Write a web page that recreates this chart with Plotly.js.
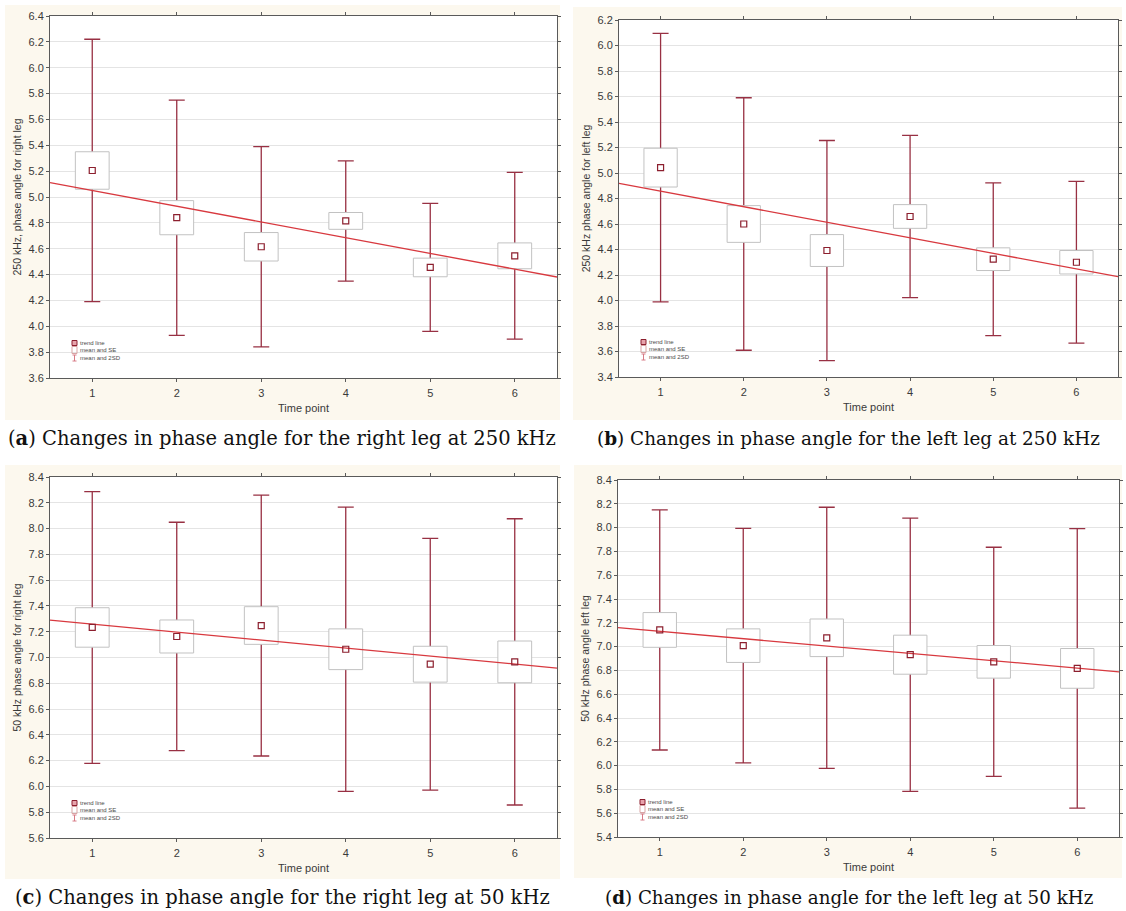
<!DOCTYPE html>
<html><head><meta charset="utf-8">
<script src="https://cdn.plot.ly/plotly-3.0.1.min.js"></script>
<style>html,body{margin:0;padding:0;background:#fff}#chart{width:1126px;height:911px}</style>
</head><body><div id="chart"></div>
<script>
// ---------- data ----------
const timePoints = [1, 2, 3, 4, 5, 6];
const tickLabels = ['1', '2', '3', '4', '5', '6'];
const xRange = [0.5, 6.5];

// (a) 250 kHz, right leg
const meanA = [5.205, 4.84, 4.615, 4.815, 4.455, 4.545];
const sd2A  = [1.015, 0.91, 0.775, 0.465, 0.495, 0.645];
const seA   = [0.145, 0.132, 0.11, 0.065, 0.072, 0.10];
// (b) 250 kHz, left leg
const meanB = [5.042, 4.60, 4.392, 4.659, 4.324, 4.30];
const sd2B  = [1.053, 0.99, 0.863, 0.636, 0.599, 0.635];
const seB   = [0.152, 0.144, 0.125, 0.093, 0.089, 0.092];
// (c) 50 kHz, right leg
const meanC = [7.233, 7.163, 7.248, 7.064, 6.948, 6.966];
const sd2C  = [1.054, 0.886, 1.012, 1.102, 0.976, 1.11];
const seC   = [0.153, 0.128, 0.146, 0.158, 0.139, 0.162];
// (d) 50 kHz, left leg
const meanD = [7.14, 7.008, 7.074, 6.932, 6.872, 6.817];
const sd2D  = [1.009, 0.985, 1.097, 1.148, 0.963, 1.174];
const seD   = [0.146, 0.141, 0.158, 0.164, 0.137, 0.167];

const yTitles = ['250 kHz, phase angle for right leg', '250 kHz phase angle for left leg',
                 '50 kHz phase angle for right leg', '50 kHz phase angle left leg'];
const yRanges = [[3.6, 6.4], [3.4, 6.2], [5.6, 8.4], [5.4, 8.4]];
const captions = ['(<b>a</b>) Changes in phase angle for the right leg at 250 kHz',
                  '(<b>b</b>) Changes in phase angle for the left leg at 250 kHz',
                  '(<b>c</b>) Changes in phase angle for the right leg at 50 kHz',
                  '(<b>d</b>) Changes in phase angle for the left leg at 50 kHz'];
const xTitle = 'Time point';
const legendLabels = ['trend line', 'mean and SE', 'mean and 2SD'];

// ---------- layout geometry (pixels) ----------
const W = 1126, H = 911;
const plotBoxes = [ // [left, right, top, bottom]
  [50, 557, 16, 378], [619, 1118, 20, 377],
  [50, 557, 477, 838], [618, 1119, 480, 837]];
const panelBoxes = [
  [5, 560, 5, 420], [573, 1122, 7, 420],
  [5, 560, 465, 879], [574, 1122, 465, 878]];
const captionPos = [[282, 438], [848, 438], [282, 897], [849, 897]];
const captionSize = [19.5, 18.4, 19.5, 18.3];

const whiskerColor = '#983043';
const meanColor = '#8c1f2e';
const trendColor = '#d8393f';
const boxLine = '#c2c2c2';
const axisColor = '#5a5a5a';
const cream = '#fcf8ee';
const sansFont = 'Liberation Sans, Arial, sans-serif';

function fit(xs, ys) {
  const n = xs.length;
  const mx = xs.reduce((a, b) => a + b, 0) / n;
  const my = ys.reduce((a, b) => a + b, 0) / n;
  let sxy = 0, sxx = 0;
  for (let i = 0; i < n; i++) { sxy += (xs[i] - mx) * (ys[i] - my); sxx += (xs[i] - mx) ** 2; }
  const slope = sxy / sxx;
  return x => my + slope * (x - mx);
}

const panels = [
  {mean: meanA, sd2: sd2A, se: seA},
  {mean: meanB, sd2: sd2B, se: seB},
  {mean: meanC, sd2: sd2C, se: seC},
  {mean: meanD, sd2: sd2D, se: seD}];

const data = [];
const layout = {
  width: W, height: H,
  margin: {l: 0, r: 0, t: 0, b: 0},
  paper_bgcolor: '#ffffff', plot_bgcolor: 'rgba(0,0,0,0)',
  showlegend: false, hovermode: false,
  font: {family: sansFont, color: '#3a3a3a'},
  shapes: [], annotations: []
};

// cream panel backgrounds first
panelBoxes.forEach(([pl, pr, pt, pb]) => {
  layout.shapes.push({type: 'rect', xref: 'paper', yref: 'paper', layer: 'below',
    x0: pl / W, x1: pr / W, y0: 1 - pb / H, y1: 1 - pt / H, fillcolor: cream, line: {width: 0}});
});

panels.forEach((p, i) => {
  const k = i + 1;
  const xa = k === 1 ? 'x' : 'x' + k;
  const ya = k === 1 ? 'y' : 'y' + k;
  const yo = 'y' + (k + 4);
  const [l, r, t, b] = plotBoxes[i];
  const xd = [l / W, r / W];
  const yd = [1 - b / H, 1 - t / H];
  const xdom = xa + ' domain', ydom = ya + ' domain';

  // white plot area
  layout.shapes.push({type: 'rect', xref: xdom, yref: ydom, layer: 'below',
    x0: 0, x1: 1, y0: 0, y1: 1, fillcolor: '#ffffff', line: {width: 0}});

  layout['xaxis' + (k === 1 ? '' : k)] = {
    domain: xd, anchor: ya, range: xRange,
    tickvals: timePoints, ticktext: tickLabels,
    showgrid: false, zeroline: false,
    showline: true, mirror: 'allticks', linecolor: axisColor, linewidth: 1,
    ticks: 'outside', ticklen: 3, tickcolor: axisColor, ticklabelstandoff: 2,
    tickfont: {size: 11, color: '#3a3a3a', family: sansFont},
    title: {text: xTitle, font: {size: 11, color: '#3a3a3a', family: sansFont}, standoff: 6}
  };
  layout['yaxis' + (k === 1 ? '' : k)] = {
    domain: yd, anchor: xa, range: yRanges[i],
    dtick: 0.2, tick0: 0, tickformat: '.1f',
    showgrid: true, gridcolor: '#e4e4e4', gridwidth: 1, zeroline: false,
    showline: true, mirror: 'allticks', linecolor: axisColor, linewidth: 1,
    ticks: 'outside', ticklen: 3, tickcolor: axisColor,
    tickfont: {size: 11, color: '#3a3a3a', family: sansFont},
    title: {text: yTitles[i], font: {size: 10.5, color: '#3a3a3a', family: sansFont}, standoff: 4}
  };
  layout['yaxis' + (k + 4)] = {
    overlaying: ya, anchor: xa, range: yRanges[i], visible: false,
    showgrid: false, zeroline: false
  };

  // 2SD whiskers (base subplot)
  data.push({
    type: 'scatter', x: timePoints, y: p.mean, mode: 'markers',
    marker: {opacity: 0, size: 2}, xaxis: xa, yaxis: ya, name: 'mean and 2SD',
    error_y: {type: 'data', array: p.sd2, visible: true, color: whiskerColor, thickness: 1.3, width: 8}
  });
  // SE boxes (overlay subplot, covers whiskers)
  data.push({
    type: 'bar', x: timePoints, y: p.se.map(s => 2 * s), base: p.mean.map((m, j) => m - p.se[j]),
    width: 0.4, xaxis: xa, yaxis: yo, name: 'mean and SE',
    marker: {color: '#ffffff', line: {color: boxLine, width: 1}}
  });
  // trend line (least squares through the means)
  const f = fit(timePoints, p.mean);
  data.push({
    type: 'scatter', x: xRange, y: xRange.map(f), mode: 'lines',
    line: {color: trendColor, width: 1.3}, xaxis: xa, yaxis: yo, name: 'trend line'
  });
  // means
  data.push({
    type: 'scatter', x: timePoints, y: p.mean, mode: 'markers', xaxis: xa, yaxis: yo, name: 'mean',
    marker: {symbol: 'square-open', size: 6, color: meanColor, line: {width: 1.2}}
  });

  // in-plot legend
  const rowY = [35, 28, 20];
  legendLabels.forEach((lab, j) => {
    layout.annotations.push({xref: xdom, yref: ydom, x: 0, y: 0, xanchor: 'left', yanchor: 'middle',
      xshift: 28, yshift: rowY[j], text: lab, showarrow: false,
      font: {size: 6, color: '#4a4a4a', family: sansFont}});
  });
  layout.shapes.push({type: 'rect', xref: xdom, yref: ydom, xsizemode: 'pixel', ysizemode: 'pixel',
    xanchor: 0, yanchor: 0, x0: 22, x1: 27, y0: rowY[0] - 2.5, y1: rowY[0] + 2.5,
    fillcolor: '#e7a3ab', line: {color: meanColor, width: 1}});
  layout.shapes.push({type: 'rect', xref: xdom, yref: ydom, xsizemode: 'pixel', ysizemode: 'pixel',
    xanchor: 0, yanchor: 0, x0: 22, x1: 27, y0: rowY[1] - 3.5, y1: rowY[1] + 3.5,
    fillcolor: 'rgba(0,0,0,0)', line: {color: '#d9a5a5', width: 1}});
  layout.shapes.push({type: 'path', xref: xdom, yref: ydom, xsizemode: 'pixel', ysizemode: 'pixel',
    xanchor: 0, yanchor: 0,
    path: `M22.5,${rowY[2] + 3} H26.5 M24.5,${rowY[2] + 3} V${rowY[2] - 3} M22.5,${rowY[2] - 3} H26.5`,
    line: {color: '#d77a85', width: 1}});

  // caption
  const [cx, cy] = captionPos[i];
  layout.annotations.push({xref: 'paper', yref: 'paper', x: cx / W, y: 1 - cy / H,
    xanchor: 'center', yanchor: 'middle', text: captions[i], showarrow: false,
    font: {family: 'DejaVu Serif, serif', size: captionSize[i], color: '#111111'}});
});

Plotly.newPlot('chart', data, layout, {displayModeBar: false, staticPlot: true});
</script>
</body></html>
